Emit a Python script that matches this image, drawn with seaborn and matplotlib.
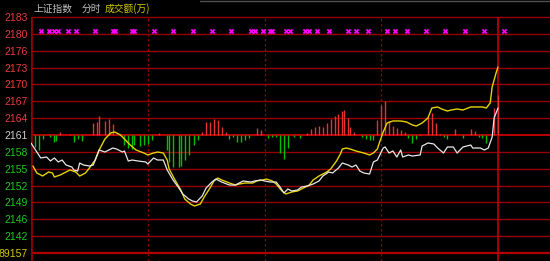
import matplotlib
matplotlib.use("Agg")
import matplotlib.pyplot as plt
from matplotlib.lines import Line2D
import seaborn as sns
import pandas as pd

# ---------------- data ----------------
price_min = [0, 3, 5, 8, 10, 12, 14, 16, 18, 21, 22, 24, 25, 27, 30, 32, 34, 35, 38, 40,
             42, 44, 47, 48, 50, 52, 55, 59, 60, 63, 65, 68, 70, 73, 76, 78, 81, 83, 85, 88,
             90, 93, 95, 98, 102, 105, 107, 109, 113, 115, 118, 120, 123, 126, 128, 130, 132, 134, 137, 139,
             142, 145, 148, 150, 153, 155, 158, 160, 163, 165, 167, 169, 171, 174, 176, 178, 181, 182, 184, 186,
             188, 190, 191, 194, 196, 200, 201, 204, 207, 209, 212, 214, 217, 219, 222, 226, 227, 231, 233, 235,
             237, 238, 240]
price_val = [2159.54, 2157.89, 2156.80, 2156.98, 2156.25, 2156.80, 2156.07, 2156.43, 2155.52, 2155.15,
             2154.61, 2154.42, 2155.88, 2155.52, 2155.34, 2155.52, 2157.35, 2158.26, 2157.89, 2158.26,
             2158.62, 2158.44, 2157.89, 2158.08, 2156.25, 2156.43, 2156.25, 2156.07, 2155.70, 2156.80,
             2156.43, 2156.43, 2154.61, 2152.78, 2151.32, 2150.22, 2149.31, 2148.94, 2148.76, 2149.86,
             2151.32, 2152.41, 2152.96, 2152.41, 2151.86, 2151.86, 2152.23, 2152.60, 2152.41, 2152.60,
             2152.78, 2152.60, 2152.41, 2152.41, 2151.50, 2150.40, 2151.13, 2150.77, 2150.95, 2151.50,
             2151.68, 2152.05, 2152.60, 2153.51, 2154.24, 2154.06, 2154.97, 2155.88, 2155.52, 2155.15,
             2155.52, 2154.42, 2154.06, 2153.87, 2156.07, 2156.43, 2158.62, 2158.81, 2157.71, 2158.08,
             2156.98, 2158.26, 2156.98, 2157.35, 2157.16, 2157.35, 2158.99, 2159.54, 2159.36, 2158.62,
             2157.71, 2158.81, 2158.81, 2157.71, 2158.81, 2159.17, 2158.62, 2158.62, 2158.26, 2158.62,
             2160.63, 2164.11, 2165.93]

lead_min = [1, 3, 6, 9, 11, 12, 15, 17, 20, 23, 25, 28, 30, 33, 35, 38, 41, 43, 46, 48,
            51, 54, 58, 60, 63, 65, 68, 70, 71, 74, 77, 79, 82, 84, 87, 89, 92, 94, 96, 98,
            102, 105, 107, 110, 114, 116, 119, 121, 124, 126, 129, 131, 134, 137, 139, 143, 145, 148, 152, 154,
            157, 159, 160, 162, 164, 167, 171, 174, 176, 178, 179, 181, 183, 186, 190, 193, 196, 198, 201, 204,
            206, 209, 211, 214, 216, 219, 222, 226, 229, 232, 234, 236, 237, 239, 240]
lead_val = [2155.34, 2154.06, 2153.51, 2154.24, 2154.06, 2153.33, 2153.69, 2154.06, 2154.61, 2154.24,
            2153.51, 2154.06, 2154.97, 2156.43, 2158.26, 2160.27, 2161.37, 2161.55, 2161.00, 2160.27,
            2159.17, 2158.26, 2157.71, 2157.35, 2157.71, 2157.89, 2157.71, 2156.43, 2154.79, 2152.78,
            2150.95, 2149.31, 2148.39, 2148.03, 2148.39, 2149.67, 2151.32, 2152.60, 2153.14, 2152.78,
            2152.23, 2151.86, 2152.05, 2152.23, 2152.23, 2152.60, 2152.78, 2152.96, 2152.60, 2152.05,
            2150.77, 2150.22, 2150.59, 2150.77, 2151.13, 2151.86, 2152.78, 2153.51, 2154.24, 2154.79,
            2156.25, 2157.53, 2158.44, 2158.62, 2158.44, 2158.08, 2157.71, 2157.35, 2157.71, 2158.44,
            2159.54, 2161.55, 2163.19, 2163.56, 2163.56, 2163.38, 2162.83, 2162.64, 2163.19, 2164.11,
            2165.93, 2166.12, 2165.75, 2165.38, 2165.57, 2165.75, 2165.57, 2166.12, 2166.12, 2166.12,
            2165.93, 2166.85, 2169.77, 2172.33, 2173.42]

bar_min = [2, 4, 6, 10, 12, 13, 15, 20, 22, 24, 26, 32, 34, 35, 38, 40, 42,
           48, 50, 52, 53, 56, 58, 60, 62, 66, 70, 71, 73, 76, 77, 79, 81, 84, 86,
           88, 90, 92, 94, 96, 98, 100, 102, 104, 106, 108, 110, 112, 116, 118,
           122, 124, 126, 128, 130, 132, 135, 138, 142, 144, 146, 148, 150, 152, 154, 156, 158, 160,
           161, 163, 164, 166, 170, 172, 174, 176, 178, 180, 182, 184, 186, 188, 190, 192,
           194, 196, 198, 200, 204, 206, 208, 210, 212, 214, 218, 222, 226, 228, 230, 232, 234, 238, 240]
bar_val = [-2.2, -2.7, -0.7, -0.4, -1.3, -1.1, 0.5, 0.2, -1.3, -0.7, -1.1, 2.2, 2.4, 3.5, 2.6, 3.0, 2.0,
           -1.8, -2.4, -2.6, -1.8, -2.0, -1.8, -1.6, -0.9, 0.4, -2.7, -5.0, -5.8, -5.8, -5.7, -4.6, -3.7, -1.8, -1.0,
           0.5, 2.4, 2.3, 3.0, 2.8, 1.5, 0.5, -0.8, -0.3, -1.3, -1.3, -1.0, -0.6, 1.2, 0.9,
           -0.5, -0.4, -0.4, -3.2, -4.3, -2.4, -0.4, -0.6, 0.4, 1.1, 1.4, 1.7, 1.4, 2.2, 3.0, 3.5, 3.9, 4.3,
           4.6, 3.1, 1.5, 0.5, -0.3, -0.8, -1.0, -0.9, 2.7, 5.5, 6.3, 2.6, 1.6, 1.3, 1.0, 0.5,
           -0.6, -1.5, -0.7, 0.2, 3.3, 4.0, 2.2, 0.2, -0.4, -0.8, 1.1, -0.5, 1.1, 0.7, -0.4, -0.6, -1.5, 4.9, 7.3]

mark_min = [5, 9, 12, 14, 19, 23, 33, 42, 43, 52, 53, 63, 73, 83, 93, 103, 113, 115, 119,
            123, 124, 131, 133, 141, 143, 147, 153, 163, 167, 173, 183, 187, 193, 203, 213, 223, 233, 243]

base_price = 2161.0
tick_step = 3.08
tick_labels = ["2183", "2180", "2176", "2173", "2170", "2167", "2164", "2161",
               "2158", "2155", "2152", "2149", "2146", "2142", "89157"]
tick_colors = ["#e83c3c"] * 7 + ["#d0d0d0"] + ["#1ec81e"] * 6 + ["#d2c800"]
header = ["上证指数", "分时", "成交额(万)"]
header_colors = ["#c0c0c0", "#c0c0c0", "#d2c800"]
session_minutes = 240

# ---------------- style ----------------
sns.set_theme(style="dark", rc={"axes.facecolor": "black", "figure.facecolor": "black"})
plt.rcParams["font.family"] = ["Noto Sans CJK SC", "DejaVu Sans"]

W, H = 550, 261
fig = plt.figure(figsize=(W / 100, H / 100), dpi=100, facecolor="black")
left_px, center_px, grid_px = 31, 135, 16.86
ax = fig.add_axes([left_px / W, 0, (W - left_px) / W, 1])
ax.set_facecolor("black")

upp = tick_step / grid_px           # price units per pixel
mpp = session_minutes / 467.0       # minutes per pixel
ax.set_xlim(0, (W - left_px) * mpp)
y_lo = base_price - (H - center_px) * upp
y_hi = base_price + center_px * upp
ax.set_ylim(y_lo, y_hi)

n = len(tick_labels)
tick_vals = [base_price + (n // 2 - i) * tick_step for i in range(n)]
top_val = tick_vals[0]

# horizontal grid
for i, v in enumerate(tick_vals):
    if i == n // 2:
        ax.axhline(v, color="#c80000", lw=1.3, zorder=1)
    elif i == n - 1:
        ax.axhline(v, color="#b00000", lw=1.6, zorder=1)
    else:
        ax.axhline(v, color="#960000", lw=1.0, zorder=1)

# vertical grid
for m in [60, 120, 180]:
    ax.vlines(m, y_lo, top_val, colors="#900000", lw=0.9, linestyles=(0, (2, 2)), zorder=1)
ax.vlines(session_minutes, y_lo, top_val, colors="#b40000", lw=1.3, zorder=1)
ax.vlines(0, y_lo, top_val, colors="#900000", lw=2.0, zorder=1)

# red/green bars
bars = pd.DataFrame({"m": bar_min, "v": bar_val})
pos = bars[bars.v > 0]
neg = bars[bars.v < 0]
ax.vlines(pos.m, base_price, base_price + pos.v, colors="#e83232", lw=1.0, zorder=2)
ax.vlines(neg.m, base_price, base_price + neg.v, colors="#00c000", lw=1.0, zorder=2)

# lines
sns.lineplot(x=lead_min, y=lead_val, color="#e6d200", lw=1.0, ax=ax,
             estimator=None, sort=False, zorder=4)
sns.lineplot(x=price_min, y=price_val, color="#e8e8e8", lw=0.9, ax=ax,
             estimator=None, sort=False, zorder=5)

# magenta event markers
mark_y = tick_vals[1] + 2.5 * upp
sns.scatterplot(x=mark_min, y=[mark_y] * len(mark_min), marker="x", color="#ff00ff",
                s=9, linewidth=1.3, ax=ax, zorder=6)

# ticks
ax.set_xticks([])
ax.set_yticks(tick_vals)
ax.set_yticklabels(tick_labels, fontsize=7.5, family=["Liberation Sans", "DejaVu Sans"])
for lab, c in zip(ax.get_yticklabels(), tick_colors):
    lab.set_color(c)
ax.tick_params(axis="y", length=0, pad=2.2)
ax.grid(False)
for s in ax.spines.values():
    s.set_visible(False)

# header
hx = [33, 82, 105]
for t, c, x in zip(header, header_colors, hx):
    fig.text(x / W, 1 - 8.5 / H, t, color=c, fontsize=7, va="center", ha="left",
             family=["Noto Sans CJK SC", "DejaVu Sans"])
fig.add_artist(Line2D([200 / W, 1], [1 - 0.5 / H] * 2, color="#505050", lw=1))

ax.set_xlabel("")
ax.set_ylabel("")
fig.savefig("out.png", dpi=100, facecolor="black")
